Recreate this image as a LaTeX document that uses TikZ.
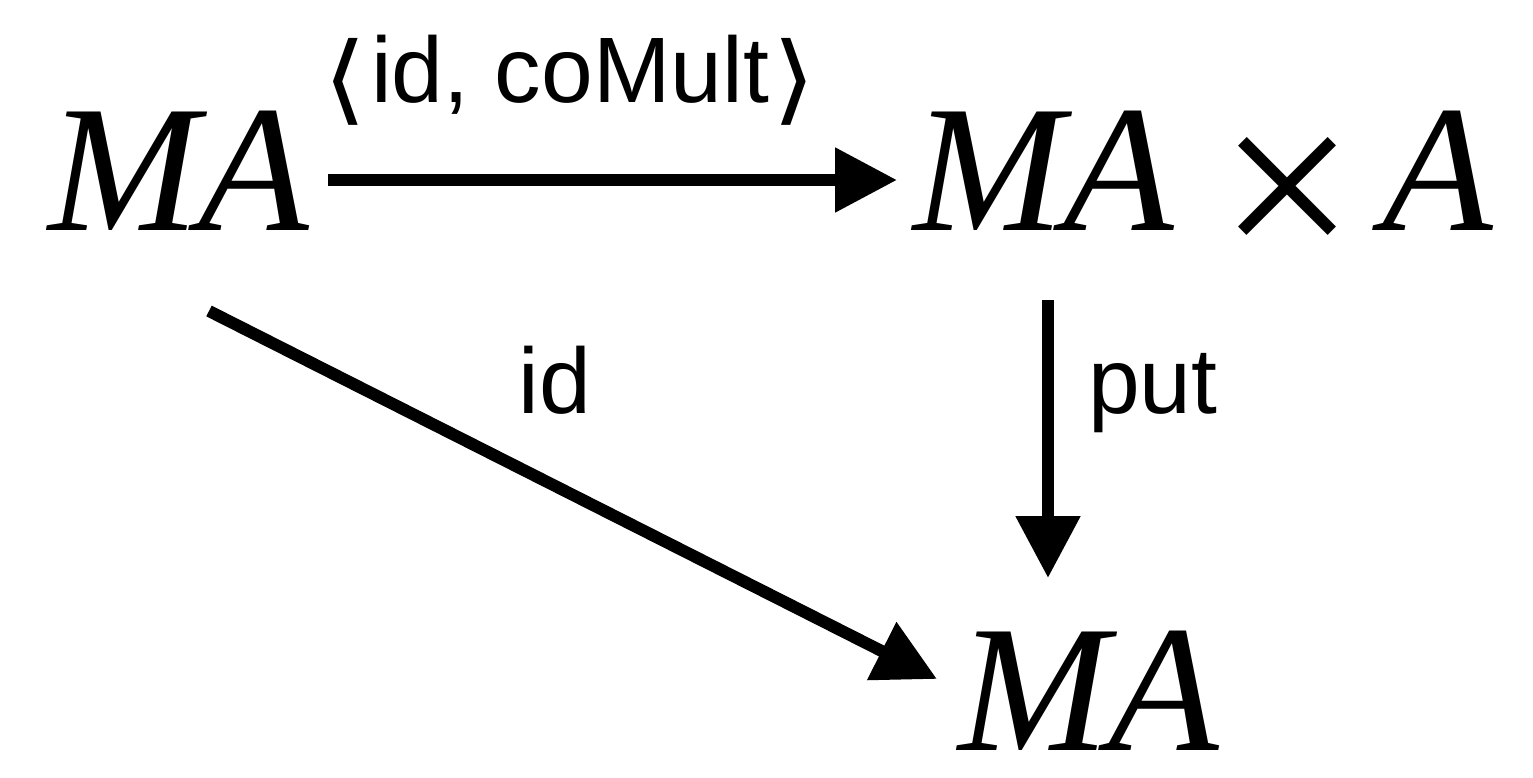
\documentclass[tikz,border=0pt]{standalone}
\usepackage{fontspec}
\usepackage{graphicx}
\setmainfont{Liberation Serif}
\newfontfamily\labfont{Liberation Sans}
\newfontfamily\symfont{DejaVu Sans}
\usetikzlibrary{arrows.meta}
\tikzset{
  obj/.style={inner sep=0pt, anchor=base west, font=\fontsize{181}{181}\selectfont\itshape},
  lbl/.style={inner sep=0pt, font=\labfont\fontsize{93}{93}\selectfont},
  arr/.style={line width=12pt, -{Triangle[length=62pt,width=62pt]}}
}
\newcommand{\bigtimes}{\raisebox{-36pt}{\scalebox{1.33}{\upshape ×}}}
\newcommand{\lang}{{\symfont\raisebox{-10pt}{\scalebox{1.2}[1.05]{⟨}}}}
\newcommand{\rang}{{\symfont\raisebox{-10pt}{\scalebox{1.2}[1.05]{⟩}}}}
\begin{document}
\begin{tikzpicture}[x=1pt,y=-1pt]
  \useasboundingbox (0,0) rectangle (1533,778);
  % objects
  \node[obj] (src) at (48,230) {MA};
  \node[obj] (prod) at (913,230) {MA\hspace{45pt}\bigtimes\hspace{27pt}A};
  \node[obj] (dst) at (958,750) {MA};
  % arrow end points
  \coordinate (s1) at (328,180);
  \coordinate (t1) at (897,180);
  \coordinate (s2) at (1048,300);
  \coordinate (t2) at (1048,578);
  \coordinate (s3) at (209,311);
  \coordinate (t3) at (937,679);
  % arrows
  \draw[arr] (s1) -- (t1);
  \draw[arr] (s2) -- (t2);
  \draw[arr] (s3) -- (t3);
  % labels
  \node[lbl, anchor=base] (l1) at (570,103) {\lang\hspace{4pt}id, coMult\hspace{4pt}\rang};
  \node[lbl, anchor=base] (l2) at (555,413) {id};
  \node[lbl, anchor=base west] (l3) at (1088,413) {put};
\end{tikzpicture}
\end{document}
